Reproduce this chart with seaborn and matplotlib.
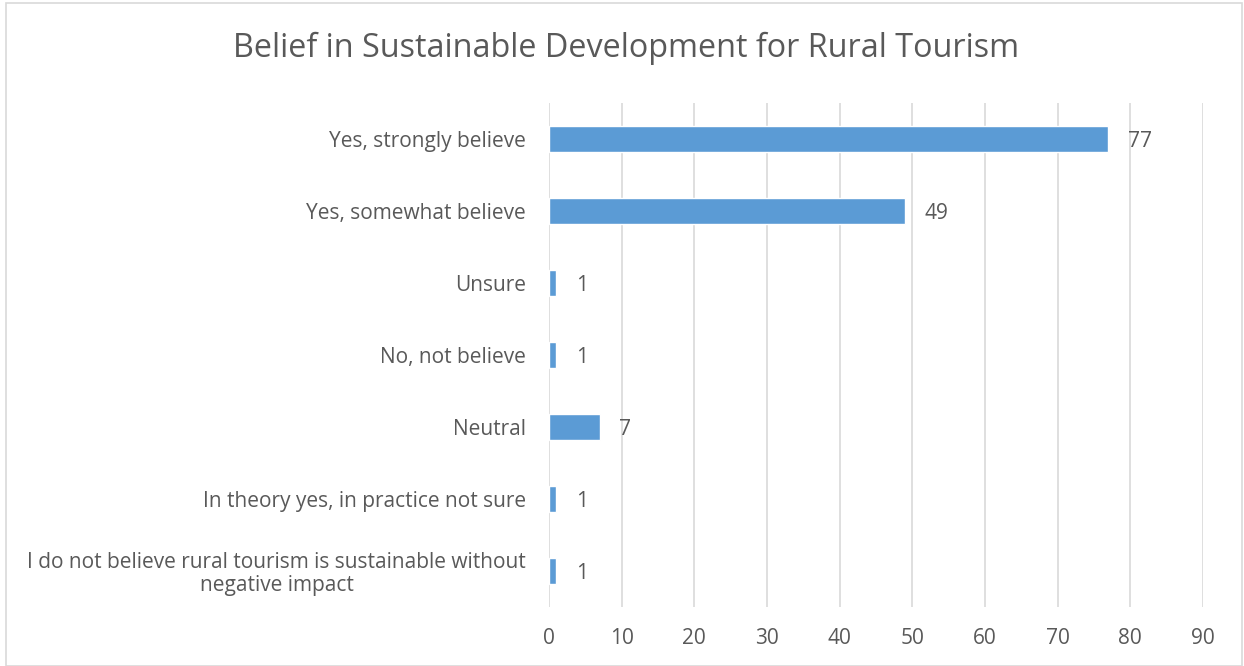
import matplotlib
matplotlib.use("Agg")
import matplotlib.pyplot as plt
import pandas as pd
import seaborn as sns
from matplotlib.patches import Rectangle

# data
categories = [
    "Yes, strongly believe",
    "Yes, somewhat believe",
    "Unsure",
    "No, not believe",
    "Neutral",
    "In theory yes, in practice not sure",
    "I do not believe rural tourism is sustainable without\nnegative impact",
]
counts = [77, 49, 1, 1, 7, 1, 1]
x_ticks = [0, 10, 20, 30, 40, 50, 60, 70, 80, 90]

sns.set_style("white")
plt.rcParams['font.family'] = ['Open Sans', 'DejaVu Sans']

text_col = "#595959"
bar_col = "#5B9BD5"
grid_col = "#D9D9D9"

df = pd.DataFrame({"answer": categories, "count": counts})

fig = plt.figure(figsize=(12.44, 6.66), dpi=100)
ax = fig.add_axes([0.4413, 0.0886, 0.5257, 0.7568])

sns.barplot(data=df, x="count", y="answer", order=categories, color=bar_col,
            width=0.36, saturation=1, ax=ax)

ax.set_xlim(0, 90)
ax.set_xticks(x_ticks)
ax.set_xlabel("")
ax.set_ylabel("")
ax.grid(axis="x", color=grid_col, linewidth=1.2)
ax.set_axisbelow(True)
for s in ax.spines.values():
    s.set_visible(False)
ax.tick_params(axis="both", length=0, colors=text_col, labelsize=15)
ax.tick_params(axis="x", pad=15)
ax.tick_params(axis="y", pad=16.5)
for lbl in ax.get_yticklabels():
    lbl.set_multialignment("center")
    lbl.set_linespacing(1.1)

# data labels
for cont in ax.containers:
    txts = ax.bar_label(cont, padding=14, color=text_col, fontsize=15)
    for t in txts:
        t.set_va("center_baseline")

fig.text(0.503, 0.927, "Belief in Sustainable Development for Rural Tourism",
         ha="center", va="center", fontsize=23.3, color=text_col)

# chart border
fig.patches.append(Rectangle((0.005, 0.0), 0.993, 0.995, transform=fig.transFigure,
                             fill=False, edgecolor=grid_col, linewidth=1.2))

fig.savefig("out.png", dpi=100)
